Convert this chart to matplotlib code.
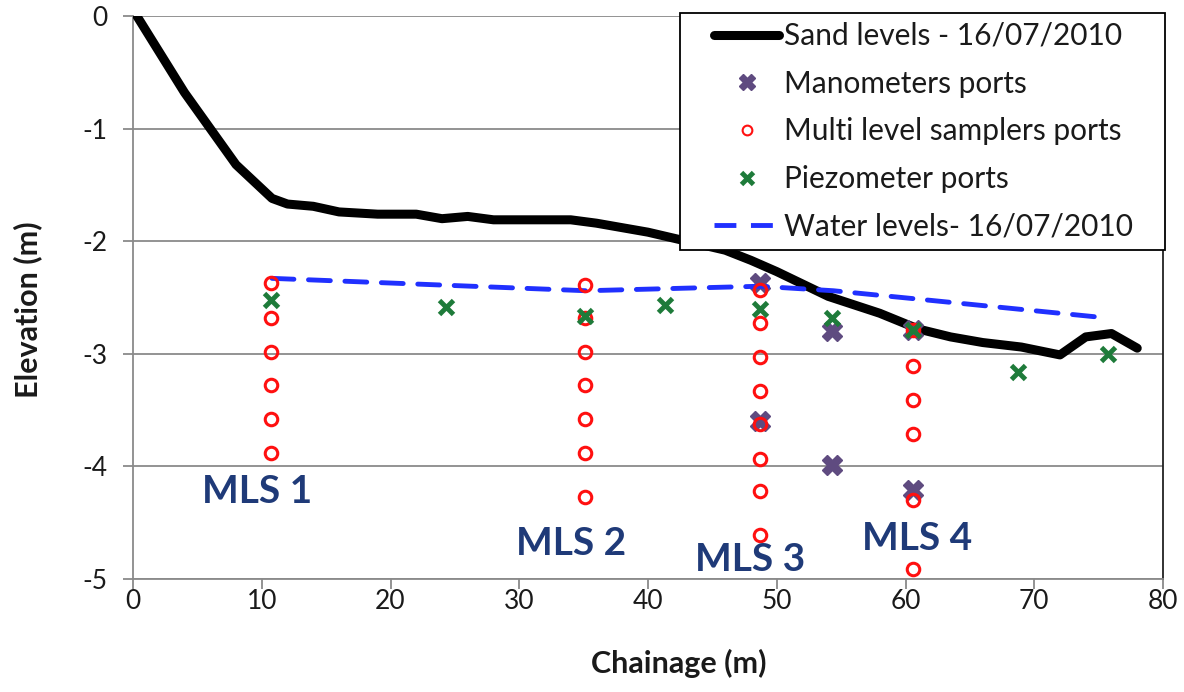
import matplotlib
matplotlib.use("Agg")
import matplotlib.pyplot as plt
from matplotlib.lines import Line2D
from matplotlib.legend_handler import HandlerLine2D
from matplotlib.offsetbox import DrawingArea

plt.rcParams['font.family'] = ['Lato', 'DejaVu Sans']
plt.rcParams['axes.unicode_minus'] = False

# ---- data ----
sand_x = [0.3, 4, 8, 10.8, 12, 14, 16, 19, 22, 24, 26, 28, 32, 34, 36, 40, 43, 46, 48,
          50, 52, 54, 58, 61, 63.5, 66, 69, 72, 74, 76, 78]
sand_y = [0, -0.68, -1.32, -1.62, -1.67, -1.69, -1.74, -1.76, -1.76, -1.80, -1.78, -1.81,
          -1.81, -1.81, -1.84, -1.92, -2.0, -2.08, -2.17, -2.27, -2.38, -2.49, -2.64,
          -2.78, -2.85, -2.90, -2.94, -3.01, -2.85, -2.82, -2.95]

water_x = [10.8, 35.2, 48.7, 54.4, 60.6, 75.5]
water_y = [-2.33, -2.44, -2.40, -2.44, -2.51, -2.68]

mls_x = [10.7] * 6 + [35.1] * 7 + [48.7] * 8 + [60.6] * 6
mls_y = [-2.37, -2.68, -2.98, -3.28, -3.58, -3.88,
         -2.39, -2.68, -2.98, -3.28, -3.58, -3.88, -4.27,
         -2.43, -2.73, -3.03, -3.33, -3.62, -3.93, -4.22, -4.61,
         -2.79, -3.11, -3.41, -3.71, -4.30, -4.91]

mano_x = [48.7, 48.7, 54.3, 54.3, 60.6, 60.6]
mano_y = [-2.37, -3.60, -2.80, -3.99, -2.79, -4.21]

piezo_x = [10.7, 24.3, 35.1, 41.3, 48.7, 54.3, 60.6, 68.7, 75.7]
piezo_y = [-2.52, -2.58, -2.66, -2.57, -2.60, -2.68, -2.79, -3.16, -3.00]

mls_labels = ["MLS 1", "MLS 2", "MLS 3", "MLS 4"]
mls_label_x = [9.6, 34.0, 47.9, 60.9]
mls_label_y = [-4.325, -4.787, -4.929, -4.742]

x_ticks = [0, 10, 20, 30, 40, 50, 60, 70, 80]
y_ticks = [0, -1, -2, -3, -4, -5]

legend_labels = ['Sand levels - 16/07/2010', 'Manometers ports',
                 'Multi level samplers ports', 'Piezometer ports',
                 'Water levels- 16/07/2010']

# ---- figure ----
W, H = 1184, 692
fig = plt.figure(figsize=(W / 100, H / 100), dpi=100)
ax = fig.add_axes([133 / W, 1 - 579 / H, (1163 - 133) / W, (579 - 16) / H])

ax.set_xlim(0, 80)
ax.set_ylim(-5, 0)
ax.set_xticks(x_ticks)
ax.set_yticks(y_ticks)
ax.yaxis.grid(True, color='#8a8a8a', linewidth=1.3)
ax.set_axisbelow(True)

ax.spines['top'].set_visible(False)
ax.spines['left'].set_color('#8a8a8a')
ax.spines['bottom'].set_color('#8a8a8a')
ax.spines['right'].set_color('#222222')
for s in ['left', 'bottom', 'right']:
    ax.spines[s].set_linewidth(1.3)
ax.tick_params(axis='both', direction='out', length=7.5, width=1.3, color='#8a8a8a',
               labelsize=19, labelcolor='#1a1a1a')
ax.tick_params(axis='x', pad=0)
ax.tick_params(axis='y', pad=11)

ax.plot(sand_x, sand_y, color='black', lw=6.5, solid_capstyle='round',
        solid_joinstyle='round', zorder=3)
ax.plot(mano_x, mano_y, ls='none', marker='X', ms=14, color='#5f4b80',
        mec='#5f4b80', zorder=4)
ax.plot(mls_x, mls_y, ls='none', marker='o', ms=9, mfc='none', mec='#ff1010',
        mew=2.2, zorder=5)
ax.plot(piezo_x, piezo_y, ls='none', marker='x', ms=10, color='#1e7b3a',
        mew=3.5, zorder=6)
ax.plot(water_x, water_y, color='#2030ff', lw=3.5, dashes=(4.5, 3),
        dash_capstyle='round', zorder=4)

for t, tx, ty in zip(mls_labels, mls_label_x, mls_label_y):
    ax.text(tx, ty, t, fontsize=28, fontweight='bold', color='#1f3a78',
            ha='center', va='baseline', zorder=7)

ax.set_xlabel('Chainage (m)', fontsize=22, fontweight='bold', color='#1a1a1a')
ax.set_ylabel('Elevation (m)', fontsize=22, fontweight='bold', color='#1a1a1a')
ax.xaxis.set_label_coords((679 - 133) / (1163 - 133), -(663 - 579) / (579 - 16))
ax.yaxis.set_label_coords(-(133 - 28) / (1163 - 133), (579 - 310) / (579 - 16))
ax.xaxis.label.set_va('center')
ax.yaxis.label.set_va('center')

handles = [
    Line2D([], [], color='black', lw=6.5, solid_capstyle='round'),
    Line2D([], [], ls='none', marker='X', ms=12, color='#5f4b80'),
    Line2D([], [], ls='none', marker='o', ms=7, mfc='none', mec='#ff1010', mew=1.5),
    Line2D([], [], ls='none', marker='x', ms=9, color='#1e7b3a', mew=3.5),
    Line2D([], [], color='#2030ff', lw=3.5, dashes=(4.5, 3)),
]
hmap = {h: HandlerLine2D(xpad=0.84) for h in handles}
leg = ax.legend(handles, legend_labels, loc='upper right', handler_map=hmap,
                bbox_to_anchor=(1165 / W, 1 - 13 / H), bbox_transform=fig.transFigure,
                fontsize=21.5, frameon=True, fancybox=False, framealpha=1,
                edgecolor='black', handlelength=3.0, labelspacing=0.66,
                borderpad=0.3, handletextpad=0.17, borderaxespad=0)
leg.get_frame().set_linewidth(1.3)
leg.set_zorder(10)
for col in leg._legend_handle_box.get_children():
    for row in col.get_children():
        row.get_children().append(DrawingArea(13, 1))
for t in leg.get_texts():
    t.set_color('#1a1a1a')

fig.savefig('out.png', dpi=100)
